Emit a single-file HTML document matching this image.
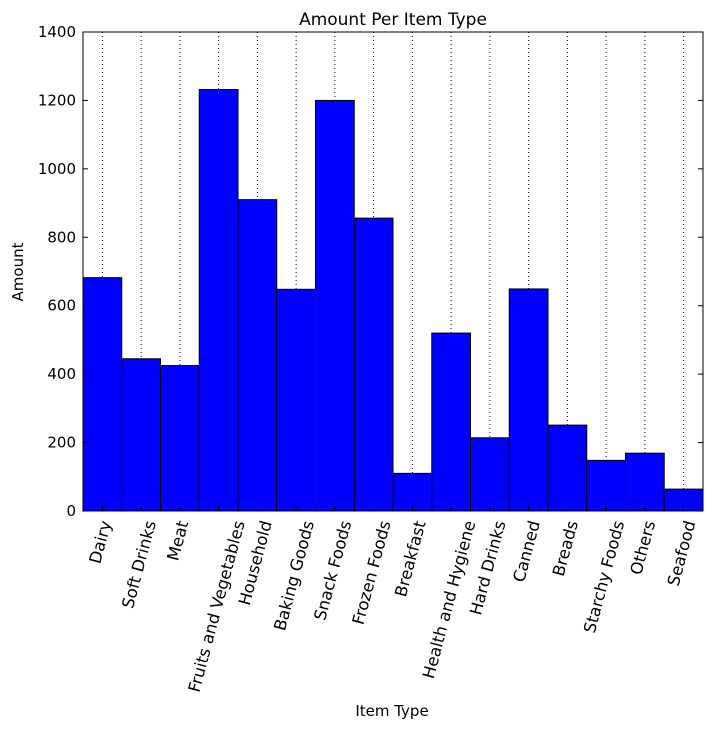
<!DOCTYPE html>
<html><head><meta charset="utf-8"><style>
body{margin:0;background:#fff;}
svg text{font-family:"DejaVu Sans","Liberation Sans",sans-serif;fill:#000;}
</style></head><body>
<svg id="chart" width="712" height="730">
<rect x="0" y="0" width="712" height="730" fill="#fff"/>
<g id="grid"></g><g id="bars"></g><g id="axes"></g>
<rect x="83" y="32" width="620" height="479" fill="none" stroke="#000" stroke-width="1"/>
<text x="393" y="25" font-size="17" text-anchor="middle">Amount Per Item Type</text>
<text x="392" y="716" font-size="15" text-anchor="middle">Item Type</text>
<text x="23" y="272" font-size="15" text-anchor="middle" transform="rotate(-90 23 272)">Amount</text>
</svg>
<script>
const categories=["Dairy","Soft Drinks","Meat","Fruits and Vegetables","Household","Baking Goods","Snack Foods","Frozen Foods","Breakfast","Health and Hygiene","Hard Drinks","Canned","Breads","Starchy Foods","Others","Seafood"];
const values=[682,445,425,1232,910,648,1200,856,110,520,214,649,251,148,169,64];
const yTicks=[0,200,400,600,800,1000,1200,1400];
const NS="http://www.w3.org/2000/svg";
const X0=83,X1=703,Y0=511,Y1=32,YMAX=1400;
const bw=(X1-X0)/categories.length;
function xPos(i){return X0+i*bw;}
function yPos(v){return Y0-(v/YMAX)*(Y0-Y1);}
function mk(tag,attrs,parent){const e=document.createElementNS(NS,tag);for(const k in attrs)e.setAttribute(k,attrs[k]);parent.appendChild(e);return e;}
const grid=document.getElementById('grid'),bars=document.getElementById('bars'),axes=document.getElementById('axes');
const ANG=75,FS=16.4,TH=16;
const rad=ANG*Math.PI/180;
categories.forEach((c,i)=>{
  const cx=xPos(i)+bw/2;
  const g=mk('line',{x1:cx,x2:cx,y1:Y1,y2:Y0,stroke:'#000','stroke-width':1,'stroke-dasharray':'1,3'},grid);
  
  
  const r=mk('rect',{x:xPos(i),y:yPos(values[i]),width:bw,height:Y0-yPos(values[i]),fill:'#0000ff',stroke:'#000','stroke-width':1},bars);
  
  
  const t=mk('line',{x1:cx,x2:cx,y1:Y0,y2:Y0-5,stroke:'#000'},axes);
  
  
  const l=mk('text',{x:0,y:0,'font-size':FS,'text-anchor':'middle','dominant-baseline':'central'},axes);
  l.textContent=c;
  
  
  const L=l.getComputedTextLength();
  const bh=L*Math.sin(rad)+TH*Math.cos(rad);
  const cy=519+bh/2;
  l.setAttribute('transform',`translate(${cx-2} ${cy}) rotate(${-ANG})`);
});
yTicks.forEach(v=>{
  const y=yPos(v);
  const t=mk('line',{x1:X0,x2:X0+5,y1:y,y2:y,stroke:'#000'},axes);
  
  
  const t2=mk('line',{x1:X1,x2:X1-5,y1:y,y2:y,stroke:'#000'},axes);
  
  
  const l=mk('text',{x:X0-7,y:y+5,'font-size':15,'text-anchor':'end'},axes);
  l.textContent=v;
  
  
});
</script>
</body></html>
